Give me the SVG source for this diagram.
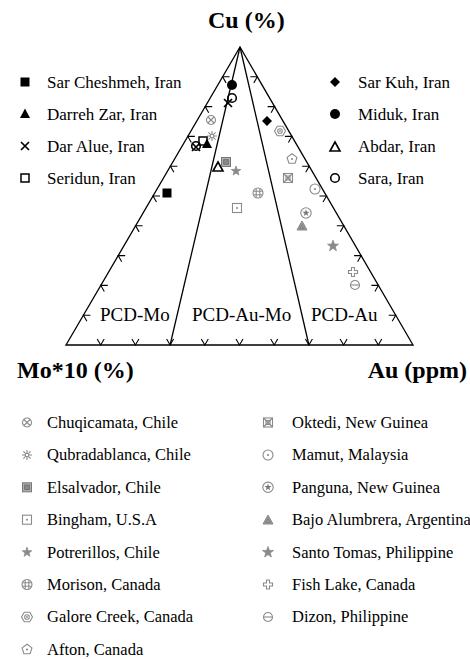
<svg xmlns="http://www.w3.org/2000/svg" width="470" height="659" viewBox="0 0 470 659">
<style>
.ax{font-family:"Liberation Serif","Times New Roman",serif;font-weight:bold;font-size:24px;fill:#000}
.zn{font-family:"Liberation Serif","Times New Roman",serif;font-size:19px;fill:#000}
.lg{font-family:"Liberation Serif","Times New Roman",serif;font-size:17px;fill:#000}
.lb{font-family:"Liberation Serif","Times New Roman",serif;font-size:16.5px;fill:#000}
.edge{fill:none;stroke:#000;stroke-width:1.3}
.tk{fill:none;stroke:#000;stroke-width:1.1}
.g{fill:none;stroke:#8a8a8a;stroke-width:1.1}
.gf{fill:#8a8a8a;stroke:#8a8a8a;stroke-width:0.8}
</style>
<defs>
<path id="chev" d="M-3.5,-6.06 L0,0 L3.5,-6.06" class="tk"/>
<g id="m-sqf"><rect x="-4.5" y="-4.5" width="9" height="9" fill="#000"/></g>
<g id="m-trif"><polygon points="0,-5.5 5,4 -5,4" fill="#000"/></g>
<g id="m-x"><path d="M-4,-4L4,4M4,-4L-4,4" stroke="#000" stroke-width="1.7" fill="none"/></g>
<g id="m-sqo"><rect x="-4" y="-4" width="8" height="8" fill="none" stroke="#000" stroke-width="1.5"/></g>
<g id="m-dia"><polygon points="0,-5 5,0 0,5 -5,0" fill="#000"/></g>
<g id="m-cf"><circle r="5" fill="#000"/></g>
<g id="m-trio"><polygon points="0,-5 5,4 -5,4" fill="none" stroke="#000" stroke-width="1.6"/></g>
<g id="m-co"><circle r="4.3" fill="none" stroke="#000" stroke-width="1.6"/></g>
<g id="m-chuq"><circle r="4.5" class="g"/><path d="M-3,-3L3,3M3,-3L-3,3" class="g"/></g>
<g id="m-qub"><path d="M-5,0H5M0,-5V5M-3.6,-3.6L3.6,3.6M3.6,-3.6L-3.6,3.6" class="g"/><circle r="1.8" fill="#fff" stroke="#8a8a8a" stroke-width="1"/></g>
<g id="m-els"><rect x="-4.5" y="-4.5" width="9" height="9" fill="#b0b0b0" stroke="#777" stroke-width="1"/><rect x="-2.3" y="-2.3" width="4.6" height="4.6" fill="#8a8a8a" stroke="#666" stroke-width="0.8"/></g>
<g id="m-bing"><rect x="-4.5" y="-4.5" width="9" height="9" class="g"/><circle r="1" fill="#8a8a8a"/></g>
<g id="m-star"><polygon points="0,-5 1.2,-1.6 4.8,-1.5 1.9,0.6 2.9,4 0,2 -2.9,4 -1.9,0.6 -4.8,-1.5 -1.2,-1.6" class="gf"/></g>
<g id="m-mor"><circle r="5" class="g"/><path d="M-1.8,-4.6V4.6M1.8,-4.6V4.6M-4.6,-1.8H4.6M-4.6,1.8H4.6" class="g" stroke-width="0.9"/></g>
<g id="m-gal"><polygon points="5.5,0 2.75,4.76 -2.75,4.76 -5.5,0 -2.75,-4.76 2.75,-4.76" class="g"/><circle r="2.3" class="g"/><circle r="0.9" fill="#8a8a8a"/></g>
<g id="m-aft"><polygon points="0,-5.2 4.95,-1.6 3.06,4.2 -3.06,4.2 -4.95,-1.6" class="g"/><circle r="1.1" fill="#8a8a8a"/></g>
<g id="m-okt"><rect x="-4.5" y="-4.5" width="9" height="9" class="g"/><path d="M-4.5,-4.5L4.5,4.5M4.5,-4.5L-4.5,4.5" class="g"/><rect x="-2" y="-2" width="4" height="4" class="g" stroke-width="0.8"/></g>
<g id="m-mam"><circle r="5" class="g"/><circle r="1.1" fill="#8a8a8a"/></g>
<g id="m-pan"><circle r="5.2" class="g"/><polygon points="0,-3.8 0.9,-1.2 3.6,-1.2 1.4,0.5 2.2,3 0,1.5 -2.2,3 -1.4,0.5 -3.6,-1.2 -0.9,-1.2" fill="#777"/></g>
<g id="m-bajo"><polygon points="0,-5 5,4 -5,4" fill="#999" stroke="#888" stroke-width="1"/><polygon points="0,-1.5 2.3,2.5 -2.3,2.5" fill="none" stroke="#777" stroke-width="0.7"/></g>
<g id="m-santo"><polygon points="0,-5.8 1.4,-1.9 5.5,-1.8 2.2,0.7 3.4,4.7 0,2.3 -3.4,4.7 -2.2,0.7 -5.5,-1.8 -1.4,-1.9" class="gf"/></g>
<g id="m-fish"><polygon points="-1.5,-4.5 1.5,-4.5 1.5,-1.5 4.5,-1.5 4.5,1.5 1.5,1.5 1.5,4.5 -1.5,4.5 -1.5,1.5 -4.5,1.5 -4.5,-1.5 -1.5,-1.5" class="g"/></g>
<g id="m-diz"><circle r="4.5" class="g"/><path d="M-4.5,0H4.5" class="g"/></g>
</defs>
<rect width="470" height="659" fill="#fff"/>

<g id="frame">
<polygon points="240,47 413,345 66,345" class="edge"/>
</g>

<g id="connectors">
<line x1="240" y1="47" x2="170.1" y2="345" class="edge"/>
<line x1="240" y1="47" x2="308.9" y2="345" class="edge"/>
</g>

<g id="ticks">
<use href="#chev" x="100.7" y="345"/><use href="#chev" x="135.4" y="345"/><use href="#chev" x="170.1" y="345"/>
<use href="#chev" x="204.8" y="345"/><use href="#chev" x="239.5" y="345"/><use href="#chev" x="274.2" y="345"/>
<use href="#chev" x="308.9" y="345"/><use href="#chev" x="343.6" y="345"/><use href="#chev" x="378.3" y="345"/>
<use href="#chev" transform="translate(83.4,315.2) rotate(120)"/>
<use href="#chev" transform="translate(100.8,285.4) rotate(120)"/>
<use href="#chev" transform="translate(118.2,255.6) rotate(120)"/>
<use href="#chev" transform="translate(135.6,225.8) rotate(120)"/>
<use href="#chev" transform="translate(153,196) rotate(120)"/>
<use href="#chev" transform="translate(170.4,166.2) rotate(120)"/>
<use href="#chev" transform="translate(187.8,136.4) rotate(120)"/>
<use href="#chev" transform="translate(205.2,106.6) rotate(120)"/>
<use href="#chev" transform="translate(222.6,76.8) rotate(120)"/>
<use href="#chev" transform="translate(395.7,315.2) rotate(-120)"/>
<use href="#chev" transform="translate(378.4,285.4) rotate(-120)"/>
<use href="#chev" transform="translate(361.1,255.6) rotate(-120)"/>
<use href="#chev" transform="translate(343.8,225.8) rotate(-120)"/>
<use href="#chev" transform="translate(326.5,196) rotate(-120)"/>
<use href="#chev" transform="translate(309.2,166.2) rotate(-120)"/>
<use href="#chev" transform="translate(291.9,136.4) rotate(-120)"/>
<use href="#chev" transform="translate(274.6,106.6) rotate(-120)"/>
<use href="#chev" transform="translate(257.3,76.8) rotate(-120)"/>
</g>

<g id="axis-labels">
<text class="ax" x="208" y="28">Cu (%)</text>
<text class="ax" x="17" y="378">Mo*10 (%)</text>
<text class="ax" x="467" y="378" text-anchor="end">Au (ppm)</text>
</g>

<g id="zones">
<text class="zn" x="100" y="321">PCD-Mo</text>
<text class="zn" x="192" y="321">PCD-Au-Mo</text>
<text class="zn" x="311" y="321">PCD-Au</text>
</g>

<g id="data">
<use href="#m-chuq" x="211" y="120"/>
<use href="#m-qub" x="212" y="136"/>
<use href="#m-cf" x="232" y="85"/>
<use href="#m-co" x="232" y="98"/>
<use href="#m-x" x="228" y="103"/>
<use href="#m-co" x="196" y="146"/>
<use href="#m-x" x="196" y="147"/>
<use href="#m-sqo" x="203" y="141"/>
<use href="#m-trif" x="207" y="144"/>
<use href="#m-trio" x="218" y="167"/>
<use href="#m-els" x="226" y="162"/>
<use href="#m-star" x="236" y="171"/>
<use href="#m-mor" x="258" y="193"/>
<use href="#m-bing" x="237" y="208"/>
<use href="#m-sqf" x="167" y="193"/>
<use href="#m-dia" x="267" y="121"/>
<use href="#m-gal" x="280" y="131"/>
<use href="#m-aft" x="292" y="159"/>
<use href="#m-okt" x="288" y="178"/>
<use href="#m-mam" x="315" y="189"/>
<use href="#m-pan" x="306" y="213"/>
<use href="#m-bajo" x="302" y="226"/>
<use href="#m-santo" x="333" y="246"/>
<use href="#m-fish" x="353" y="272"/>
<use href="#m-diz" x="355" y="285"/>
</g>

<g id="legend-iran">
<use href="#m-sqf" x="25" y="82"/><text class="lg" x="47" y="88">Sar Cheshmeh, Iran</text>
<use href="#m-trif" x="25" y="114"/><text class="lg" x="47" y="120">Darreh Zar, Iran</text>
<use href="#m-x" x="25" y="146"/><text class="lg" x="47" y="152">Dar Alue, Iran</text>
<use href="#m-sqo" x="25" y="178"/><text class="lg" x="47" y="184">Seridun, Iran</text>
<use href="#m-dia" x="335" y="82"/><text class="lg" x="358" y="88">Sar Kuh, Iran</text>
<use href="#m-cf" x="335" y="114"/><text class="lg" x="358" y="120">Miduk, Iran</text>
<use href="#m-trio" x="335" y="147"/><text class="lg" x="358" y="152">Abdar, Iran</text>
<use href="#m-co" x="335" y="178"/><text class="lg" x="358" y="184">Sara, Iran</text>
</g>

<g id="legend-world">
<use href="#m-chuq" x="27" y="422.5"/><text class="lb" x="47" y="428">Chuqicamata, Chile</text>
<use href="#m-qub" x="27" y="455"/><text class="lb" x="47" y="460.4">Qubradablanca, Chile</text>
<use href="#m-els" x="27" y="487.3"/><text class="lb" x="47" y="492.8">Elsalvador, Chile</text>
<use href="#m-bing" x="27" y="519.7"/><text class="lb" x="47" y="525.2">Bingham, U.S.A</text>
<use href="#m-star" x="27" y="552.3"/><text class="lb" x="47" y="557.6">Potrerillos, Chile</text>
<use href="#m-mor" x="27" y="584.5"/><text class="lb" x="47" y="590">Morison, Canada</text>
<use href="#m-gal" x="27" y="617"/><text class="lb" x="47" y="622.4">Galore Creek, Canada</text>
<use href="#m-aft" x="27" y="649.5"/><text class="lb" x="47" y="654.8">Afton, Canada</text>
<use href="#m-okt" x="268" y="422.5"/><text class="lb" x="292" y="428">Oktedi, New Guinea</text>
<use href="#m-mam" x="268" y="455"/><text class="lb" x="292" y="460.4">Mamut, Malaysia</text>
<use href="#m-pan" x="268" y="487.3"/><text class="lb" x="292" y="492.8">Panguna, New Guinea</text>
<use href="#m-bajo" x="268" y="520"/><text class="lb" x="292" y="525.2">Bajo Alumbrera, Argentina</text>
<use href="#m-santo" x="268" y="552.3"/><text class="lb" x="292" y="557.6">Santo Tomas, Philippine</text>
<use href="#m-fish" x="268" y="584.5"/><text class="lb" x="292" y="590">Fish Lake, Canada</text>
<use href="#m-diz" x="268" y="617"/><text class="lb" x="292" y="622.4">Dizon, Philippine</text>
</g>
</svg>
